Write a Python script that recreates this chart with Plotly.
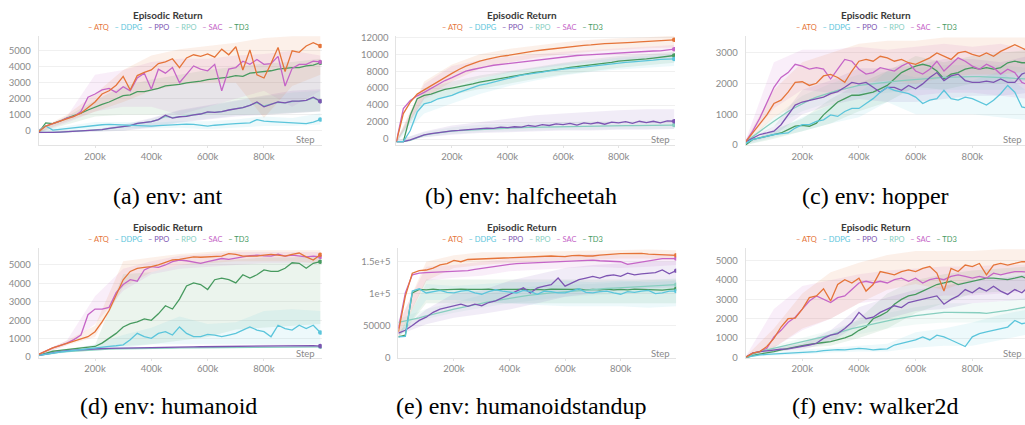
import plotly.graph_objects as go

# ---------------------------------------------------------------- data
STEPS_K = [0, 25, 50, 75, 100, 125, 150, 175, 200, 225, 250, 275, 300, 325, 350, 375, 400,
           425, 450, 475, 500, 525, 550, 575, 600, 625, 650, 675, 700, 725, 750, 775, 800,
           825, 850, 875, 900, 925, 950, 975, 1000]
BAND_STEPS_K = [0, 100, 200, 300, 400, 500, 600, 700, 800, 900, 1000]

ALGOS = ["ATQ", "DDPG", "PPO", "RPO", "SAC", "TD3"]
ENV_NAMES = ["ant", "halfcheetah", "hopper", "humanoid", "humanoidstandup", "walker2d"]
CAPTIONS = ["(a) env: ant", "(b) env: halfcheetah", "(c) env: hopper",
            "(d) env: humanoid", "(e) env: humanoidstandup", "(f) env: walker2d"]
CHART_TITLE = "Episodic Return"
X_LABEL = "Step"
X_TICK_VALS_K = [200, 400, 600, 800]
X_TICK_TEXT = ["200k", "400k", "600k", "800k"]
Y_TICKS_ANT = [0, 1000, 2000, 3000, 4000, 5000]
Y_TICKS_HALFCHEETAH = [0, 2000, 4000, 6000, 8000, 10000, 12000]
Y_TICKS_HOPPER = [0, 1000, 2000, 3000]
Y_TICKS_HUMANOID = [0, 1000, 2000, 3000, 4000, 5000]
Y_TICKS_HUMANOIDSTANDUP = [0, 50000, 100000, 150000]
Y_TICK_TEXT_HUMANOIDSTANDUP = ["0", "50000", "1e+5", "1.5e+5"]
Y_TICKS_WALKER2D = [0, 1000, 2000, 3000, 4000, 5000]

# ---- ant
ANT_ATQ = [-50, 300, 450, 600, 750, 900, 1100, 1450, 1800, 2300, 2500, 2850, 3400, 2550, 3450, 3650, 3800,
           4200, 4300, 4500, 3950, 4550, 4750, 4650, 4800, 4600, 5100, 4750, 5250, 3800, 5050, 3500, 3300,
           4200, 5200, 3700, 5000, 4900, 5300, 5500, 5300]
ANT_DDPG = [0, 300, 50, 100, 150, 200, 250, 300, 350, 380, 400, 380, 350, 320, 300, 300, 300,
            320, 350, 380, 400, 420, 400, 350, 300, 350, 400, 420, 450, 480, 500, 700, 600,
            580, 550, 520, 500, 480, 450, 550, 700]
ANT_PPO = [-100, -120, -100, -80, -60, -40, -20, 0, 20, 80, 150, 200, 260, 330, 470, 520, 570,
           700, 980, 800, 880, 900, 1000, 1050, 1180, 1150, 1200, 1300, 1390, 1450, 1590, 1800, 1500,
           1650, 1800, 1750, 1850, 1850, 1900, 2100, 1850]
ANT_RPO = [-100, -110, -100, -80, -60, -40, -20, 0, 30, 80, 140, 200, 260, 330, 450, 520, 580,
           700, 900, 820, 880, 920, 1000, 1050, 1150, 1150, 1200, 1300, 1380, 1450, 1580, 1750, 1550,
           1650, 1780, 1750, 1830, 1850, 1900, 2050, 1850]
ANT_SAC = [0, 300, 450, 600, 800, 900, 1200, 2100, 2300, 2550, 2650, 2400, 2750, 2500, 3300, 3600, 2600,
           3850, 3600, 3950, 3000, 3500, 4050, 3850, 3750, 4150, 2500, 3850, 3950, 4350, 4150, 4450, 4150,
           4200, 4650, 2800, 3900, 4150, 4150, 4350, 4300]
ANT_TD3 = [-100, 500, 450, 600, 800, 950, 1100, 1300, 1500, 1650, 1800, 2000, 2200, 2250, 2450, 2450, 2550,
           2650, 2800, 2850, 2900, 3000, 3050, 3100, 3200, 3250, 3300, 3350, 3450, 3400, 3600, 3650, 3700,
           3750, 3850, 3900, 3950, 3950, 4050, 4100, 4250]
ANT_ATQ_LO = [-100, 600, 1200, 1800, 2500, 2900, 3000, 3000, 800, 2800, 3500]
ANT_ATQ_HI = [100, 1000, 2300, 3800, 4700, 5100, 5300, 5500, 5800, 5900, 5900]
ANT_DDPG_LO = [-50, 0, 150, 200, 150, 200, 100, 200, 300, 300, 400]
ANT_DDPG_HI = [50, 300, 550, 550, 500, 600, 600, 700, 900, 800, 1100]
ANT_PPO_LO = [-150, -120, -50, 0, 200, 500, 700, 900, 1000, 1100, 1200]
ANT_PPO_HI = [-50, 0, 100, 400, 800, 1300, 1600, 1900, 2200, 2500, 2600]
ANT_RPO_LO = [-150, -120, -50, 0, 250, 550, 750, 950, 1050, 1150, 1250]
ANT_RPO_HI = [-50, 0, 100, 350, 750, 1250, 1550, 1850, 2150, 2400, 2500]
ANT_SAC_LO = [-100, 500, 1200, 1500, 1500, 1000, 1500, 2000, 2500, 1500, 2500]
ANT_SAC_HI = [100, 900, 3500, 3800, 4300, 4500, 4500, 4700, 4800, 5000, 4700]
ANT_TD3_LO = [-100, 400, 900, 1000, 1000, 1000, 1000, 1000, 1000, 1100, 1200]
ANT_TD3_HI = [100, 900, 1900, 2800, 3200, 3500, 3800, 4000, 4200, 4300, 4500]

# ---- halfcheetah
HALFCHEETAH_ATQ = [-300, 3000, 4350, 5300, 5800, 6300, 6700, 7250, 7750, 8200, 8600, 8900, 9200, 9400, 9600, 9750,
                   9850, 10000, 10150, 10250, 10400, 10500, 10600, 10700, 10800, 10900, 11000, 11050, 11100,
                   11200, 11250, 11280, 11300, 11350, 11400, 11450, 11500, 11550, 11600, 11650, 11700]
HALFCHEETAH_DDPG = [-300, -300, 1000, 3200, 4150, 4350, 4750, 4950, 5150, 5500, 5800, 6100, 6350, 6500, 6700,
                    6900, 7150, 7350, 7550, 7650, 7750, 7900, 8050, 8180, 8300, 8350, 8400, 8500, 8600, 8700,
                    8800, 8900, 9000, 9050, 9100, 9150, 9200, 9300, 9400, 9420, 9450]
HALFCHEETAH_PPO = [-300, -300, -100, 200, 500, 650, 770, 900, 970, 1020, 1080, 1150, 1200, 1300, 1250, 1400,
                   1350, 1450, 1400, 1600, 1500, 1700, 1600, 1800, 1700, 1850, 1650, 1900, 1800, 1950, 1750,
                   2000, 1900, 2050, 1850, 2100, 1950, 2100, 1900, 2150, 2100]
HALFCHEETAH_RPO = [-300, -300, -150, 150, 450, 620, 750, 850, 950, 1000, 1050, 1100, 1150, 1200, 1230, 1260,
                   1300, 1330, 1360, 1380, 1400, 1420, 1440, 1460, 1480, 1500, 1510, 1520, 1530, 1540, 1550,
                   1560, 1570, 1580, 1590, 1600, 1610, 1620, 1630, 1640, 1650]
HALFCHEETAH_SAC = [-300, 3600, 4550, 5100, 5500, 6000, 6500, 6900, 7250, 7650, 8000, 8200, 8400, 8550, 8700,
                   8800, 8900, 9000, 9100, 9200, 9300, 9380, 9450, 9580, 9700, 9780, 9850, 9900, 9950, 10030,
                   10100, 10120, 10150, 10200, 10250, 10300, 10350, 10380, 10400, 10500, 10600]
HALFCHEETAH_TD3 = [-300, -300, 2800, 4750, 5150, 5300, 5600, 5850, 6000, 6150, 6300, 6500, 6700, 6850, 7000,
                   7100, 7250, 7400, 7550, 7700, 7850, 7950, 8050, 8200, 8300, 8450, 8550, 8620, 8700, 8800,
                   8900, 9050, 9200, 9250, 9300, 9380, 9450, 9550, 9650, 9750, 9850]
HALFCHEETAH_ATQ_LO = [-400, 4800, 6800, 8300, 9000, 9600, 10000, 10300, 10500, 10700, 10800]
HALFCHEETAH_ATQ_HI = [-200, 6800, 8800, 10000, 10600, 11000, 11400, 11700, 11900, 12000, 12200]
HALFCHEETAH_DDPG_LO = [-400, 3000, 4200, 5300, 6200, 6900, 7500, 7900, 8200, 8400, 8600]
HALFCHEETAH_DDPG_HI = [-200, 5000, 6000, 7100, 7900, 8400, 8900, 9200, 9600, 9800, 10000]
HALFCHEETAH_PPO_LO = [-400, 200, 500, 700, 800, 900, 1000, 1000, 1100, 1100, 1200]
HALFCHEETAH_PPO_HI = [-200, 900, 1600, 2000, 2400, 2800, 3000, 3200, 3400, 3500, 3500]
HALFCHEETAH_RPO_LO = [-400, 200, 600, 800, 900, 1000, 1100, 1100, 1200, 1200, 1200]
HALFCHEETAH_RPO_HI = [-200, 800, 1400, 1700, 1800, 1900, 2000, 2100, 2100, 2200, 2200]
HALFCHEETAH_SAC_LO = [-400, 4700, 6200, 7200, 7800, 8300, 8700, 9000, 9200, 9400, 9600]
HALFCHEETAH_SAC_HI = [-200, 6500, 8600, 9300, 9700, 10000, 10300, 10500, 10700, 10900, 11100]
HALFCHEETAH_TD3_LO = [-400, 4200, 5200, 5900, 6500, 7100, 7600, 8000, 8400, 8700, 9000]
HALFCHEETAH_TD3_HI = [-200, 5900, 6800, 7500, 8000, 8500, 9000, 9400, 9800, 10000, 10300]

# ---- hopper
HOPPER_ATQ = [100, 390, 660, 980, 1350, 1460, 1720, 2040, 2060, 1940, 2010, 2250, 2300, 2200, 2040, 2410, 2730,
              2790, 2730, 2890, 2840, 2730, 2790, 2680, 2630, 2730, 2840, 3000, 2890, 2790, 3000, 3050, 2950,
              2890, 3000, 2890, 3050, 3160, 3270, 3160, 3050]
HOPPER_DDPG = [50, 180, 230, 290, 340, 370, 390, 550, 660, 660, 770, 820, 980, 930, 1090, 1190, 1190,
               1350, 1510, 1720, 1880, 1780, 1720, 1670, 1560, 1350, 1460, 1510, 1780, 1510, 1460, 1560, 1510,
               1400, 1300, 1460, 1670, 1940, 1720, 1240, 1190]
HOPPER_PPO = [100, 230, 340, 390, 450, 660, 980, 1300, 1400, 1460, 1510, 1560, 1670, 1740, 1880, 2040, 1990,
              2040, 1880, 1720, 1880, 1880, 1780, 1940, 1830, 1990, 2200, 2360, 2100, 2250, 2310, 2100, 2040,
              2040, 2080, 2040, 2150, 2040, 2040, 2310, 2400]
HOPPER_RPO = [100, 280, 450, 610, 770, 930, 1090, 1220, 1350, 1460, 1560, 1640, 1720, 1780, 1830, 1890, 1940,
              1970, 1990, 2020, 2040, 2070, 2100, 2120, 2150, 2160, 2170, 2190, 2200, 2210, 2230, 2230, 2230,
              2225, 2220, 2210, 2200, 2190, 2170, 2160, 2150]
HOPPER_SAC = [100, 450, 870, 1400, 1880, 2200, 2360, 2630, 2570, 2470, 2520, 2470, 2150, 2470, 2790, 2730, 2470,
              2310, 2360, 2520, 2470, 2410, 2570, 2680, 2410, 2310, 2470, 2730, 2410, 2630, 2840, 2730, 2570,
              2470, 2630, 2520, 2310, 2470, 2360, 2040, 1950]
HOPPER_TD3 = [0, 180, 230, 290, 340, 390, 500, 610, 640, 610, 710, 980, 1190, 1400, 1510, 1620, 1620,
              1670, 1720, 1830, 1940, 2150, 2360, 2470, 2570, 2630, 2570, 2410, 2150, 2310, 2360, 2470, 2520,
              2470, 2520, 2470, 2520, 2680, 2730, 2680, 2680]
HOPPER_ATQ_LO = [50, 900, 1400, 1600, 2000, 2100, 2000, 2200, 2300, 2300, 2400]
HOPPER_ATQ_HI = [150, 1800, 2700, 3000, 3300, 3400, 3400, 3500, 3500, 3500, 3500]
HOPPER_DDPG_LO = [0, 250, 450, 700, 900, 1400, 1000, 1000, 1000, 900, 800]
HOPPER_DDPG_HI = [100, 450, 900, 1300, 1700, 2400, 2200, 2300, 2100, 2400, 1700]
HOPPER_PPO_LO = [50, 300, 1000, 1300, 1500, 1400, 1400, 1500, 1600, 1600, 1700]
HOPPER_PPO_HI = [150, 600, 1800, 2100, 2500, 2500, 2600, 2800, 2800, 2700, 2900]
HOPPER_RPO_LO = [50, 600, 1100, 1400, 1600, 1700, 1800, 1800, 1800, 1800, 1800]
HOPPER_RPO_HI = [150, 900, 1600, 2000, 2300, 2400, 2500, 2600, 2600, 2600, 2500]
HOPPER_SAC_LO = [50, 1200, 1800, 1700, 1700, 1800, 1600, 1700, 1700, 1600, 1500]
HOPPER_SAC_HI = [150, 2700, 3100, 3100, 3200, 3100, 3200, 3300, 3200, 3300, 3100]
HOPPER_TD3_LO = [0, 200, 450, 700, 1100, 1400, 1900, 1800, 2000, 2000, 2100]
HOPPER_TD3_HI = [50, 500, 850, 1500, 2000, 2400, 2900, 2700, 2900, 3000, 3100]

# ---- humanoid
HUMANOID_ATQ = [150, 330, 500, 630, 760, 890, 1020, 1110, 1380, 1910, 2530, 3320, 4200, 4650, 4820, 4870, 4910,
                5000, 5120, 5270, 5300, 5350, 5440, 5420, 5440, 5440, 5480, 5620, 5580, 5480, 5480, 5480, 5530,
                5580, 5530, 5480, 5580, 5650, 5440, 5270, 5560]
HUMANOID_DDPG = [100, 170, 230, 280, 320, 370, 410, 450, 500, 540, 580, 620, 670, 940, 1290, 1110, 1020,
                 1290, 1380, 1200, 1640, 1290, 1110, 1110, 1240, 1200, 1110, 1200, 1290, 1470, 1640, 1470, 1380,
                 1110, 1730, 1550, 1470, 1730, 1550, 1730, 1340]
HUMANOID_PPO = [100, 180, 250, 300, 350, 380, 410, 440, 460, 470, 480, 490, 500, 505, 510, 515, 530,
                535, 540, 545, 550, 555, 560, 565, 570, 572, 575, 578, 580, 590, 600, 605, 620,
                625, 630, 635, 640, 645, 650, 630, 600]
HUMANOID_RPO = [100, 170, 230, 270, 300, 330, 360, 390, 420, 430, 440, 450, 460, 465, 470, 475, 480,
                485, 490, 495, 500, 505, 510, 512, 515, 517, 520, 522, 525, 530, 535, 537, 540,
                542, 545, 547, 550, 552, 555, 557, 560]
HUMANOID_SAC = [150, 330, 500, 630, 760, 950, 1200, 2300, 2610, 2610, 2700, 3500, 3940, 4200, 4120, 4730, 4910,
                4870, 5000, 5180, 5270, 5230, 5180, 5090, 5180, 5270, 5350, 5300, 5350, 5440, 5500, 5530, 5500,
                5480, 5580, 5480, 5530, 5480, 5440, 5480, 5440]
HUMANOID_TD3 = [100, 210, 320, 370, 410, 450, 500, 540, 580, 760, 1020, 1290, 1640, 1820, 1910, 2080, 2000,
                2350, 2790, 2610, 3150, 3860, 4030, 3940, 3670, 4200, 4290, 4200, 4030, 4470, 4290, 4470, 4730,
                4650, 4650, 4820, 5120, 5090, 4820, 5090, 5180]
HUMANOID_ATQ_LO = [100, 650, 1100, 3800, 4600, 5000, 5100, 5200, 5200, 5200, 5100]
HUMANOID_ATQ_HI = [200, 900, 1700, 5200, 5400, 5600, 5700, 5800, 5800, 5800, 5800]
HUMANOID_DDPG_LO = [50, 250, 400, 500, 700, 700, 700, 700, 700, 700, 700]
HUMANOID_DDPG_HI = [150, 400, 700, 1200, 1600, 2200, 1800, 1900, 2500, 2600, 2500]
HUMANOID_PPO_LO = [50, 300, 420, 460, 490, 510, 530, 540, 570, 590, 560]
HUMANOID_PPO_HI = [150, 400, 500, 540, 570, 590, 610, 620, 670, 690, 650]
HUMANOID_RPO_LO = [50, 270, 380, 420, 450, 470, 490, 500, 510, 520, 530]
HUMANOID_RPO_HI = [150, 370, 460, 500, 510, 530, 540, 550, 570, 580, 590]
HUMANOID_SAC_LO = [100, 650, 1800, 3600, 4500, 4800, 4900, 5000, 5100, 5100, 5100]
HUMANOID_SAC_HI = [200, 900, 3300, 4800, 5200, 5500, 5600, 5700, 5700, 5700, 5700]
HUMANOID_TD3_LO = [50, 350, 500, 600, 700, 900, 1100, 1500, 1600, 1700, 1800]
HUMANOID_TD3_HI = [150, 450, 650, 4500, 4600, 5000, 5200, 5300, 5400, 5400, 5500]

# ---- humanoidstandup
HUMANOIDSTANDUP_ATQ = [40000, 96000, 132000, 136000, 137000, 140000, 145000, 147000, 152000, 150000, 153500,
                       154000, 153500, 155000, 155000, 155500, 156000, 156000, 156500, 157000, 157600, 158000,
                       159000, 158500, 158000, 159500, 160000, 159000, 159000, 160500, 161700, 162000, 162700,
                       163000, 163700, 163000, 162000, 161500, 160000, 160500, 160000]
HUMANOIDSTANDUP_DDPG = [32000, 33000, 104000, 107500, 101000, 103000, 105000, 102000, 101000, 104000, 105000,
                        101000, 99000, 103000, 106000, 104000, 102000, 101000, 105000, 103000, 99000, 104000,
                        103000, 101000, 101000, 104000, 107500, 102000, 101000, 103000, 104000, 101000, 99000,
                        103000, 102000, 104000, 105000, 100000, 101000, 104000, 104000]
HUMANOIDSTANDUP_PPO = [38000, 42500, 50000, 58000, 63000, 70600, 75700, 78300, 81000, 83400, 80000, 83400,
                       81000, 86000, 88500, 93700, 98800, 104000, 109000, 101000, 109000, 111600, 114000,
                       124400, 111600, 116700, 121800, 124400, 127000, 124400, 128000, 129500, 127000, 132000,
                       129500, 131000, 132000, 133000, 137000, 131000, 136000]
HUMANOIDSTANDUP_RPO = [55000, 57000, 59500, 62000, 65000, 68000, 70500, 73000, 75500, 78000, 80500, 83000,
                       85000, 87000, 89000, 91000, 93000, 94500, 96000, 97500, 99000, 100000, 101000, 102000,
                       103000, 104000, 105000, 105800, 106500, 107200, 108000, 108700, 109300, 110000, 110600,
                       111200, 111800, 112400, 113000, 113500, 114000]
HUMANOIDSTANDUP_SAC = [45000, 101000, 129500, 132000, 133000, 133500, 134000, 134500, 135000, 135500, 136000,
                       138000, 139700, 141500, 143000, 144500, 146000, 147000, 147400, 148000, 148400, 149000,
                       149400, 149700, 150000, 150500, 151000, 152000, 152500, 151500, 151000, 150500, 150000,
                       146000, 148000, 150000, 151500, 153000, 155000, 155000, 155000]
HUMANOIDSTANDUP_TD3 = [32000, 35000, 101000, 106500, 106000, 107000, 106000, 106500, 106000, 107000, 106500,
                       106000, 106500, 107000, 106000, 106500, 106000, 106500, 107000, 106000, 106500, 106000,
                       107000, 106500, 106000, 106500, 107000, 106000, 106500, 106000, 107000, 106000, 106500,
                       106000, 107000, 106500, 106000, 106500, 105500, 106500, 107500]
HUMANOIDSTANDUP_ATQ_LO = [30000, 120000, 140000, 145000, 148000, 150000, 152000, 153000, 155000, 155000, 153000]
HUMANOIDSTANDUP_ATQ_HI = [50000, 150000, 160000, 165000, 165000, 166000, 167000, 168000, 169000, 169000, 168000]
HUMANOIDSTANDUP_DDPG_LO = [30000, 90000, 90000, 88000, 85000, 82000, 80000, 80000, 80000, 78000, 80000]
HUMANOIDSTANDUP_DDPG_HI = [34000, 115000, 112000, 115000, 118000, 118000, 120000, 118000, 120000, 118000, 120000]
HUMANOIDSTANDUP_PPO_LO = [35000, 52000, 62000, 68000, 75000, 85000, 95000, 100000, 105000, 108000, 110000]
HUMANOIDSTANDUP_PPO_HI = [40000, 75000, 100000, 105000, 120000, 130000, 140000, 145000, 148000, 150000, 150000]
HUMANOIDSTANDUP_RPO_LO = [40000, 60000, 70000, 78000, 85000, 90000, 95000, 98000, 100000, 102000, 104000]
HUMANOIDSTANDUP_RPO_HI = [60000, 76000, 86000, 98000, 107000, 112000, 114000, 115000, 118000, 121000, 124000]
HUMANOIDSTANDUP_SAC_LO = [35000, 120000, 125000, 128000, 135000, 138000, 140000, 142000, 140000, 142000, 145000]
HUMANOIDSTANDUP_SAC_HI = [55000, 142000, 145000, 150000, 155000, 158000, 160000, 162000, 160000, 160000, 163000]
HUMANOIDSTANDUP_TD3_LO = [30000, 85000, 85000, 85000, 85000, 85000, 85000, 85000, 85000, 85000, 85000]
HUMANOIDSTANDUP_TD3_HI = [34000, 122000, 122000, 122000, 122000, 122000, 122000, 122000, 122000, 122000, 122000]

# ---- walker2d
WALKER2D_ATQ = [0, 220, 300, 560, 980, 1570, 2000, 2030, 2500, 3090, 3180, 3550, 2920, 3770, 4020, 3850, 4100,
                3430, 3770, 4440, 4360, 4270, 4440, 4530, 4440, 4610, 4700, 4360, 3430, 4610, 4440, 4780, 4700,
                4860, 4270, 4780, 4860, 4780, 4860, 4950, 4950]
WALKER2D_DDPG = [0, 80, 130, 150, 170, 200, 220, 250, 270, 290, 300, 350, 390, 400, 390, 430, 470,
                 440, 390, 420, 440, 640, 730, 810, 900, 1060, 900, 1150, 1060, 900, 730, 560, 1060,
                 1230, 1320, 1400, 1490, 1570, 1910, 1740, 1820]
WALKER2D_PPO = [0, 220, 300, 350, 390, 420, 440, 500, 560, 640, 730, 980, 1150, 1230, 1490, 1820, 2330,
                2000, 2080, 2330, 2500, 2670, 2580, 2840, 2920, 3000, 3090, 3180, 2750, 3000, 3180, 3510, 3340,
                3600, 3430, 3680, 3430, 3260, 3510, 3340, 3680]
WALKER2D_RPO = [0, 150, 300, 390, 470, 560, 640, 720, 810, 900, 980, 1060, 1150, 1270, 1400, 1490, 1570,
                1650, 1740, 1830, 1910, 1970, 2030, 2100, 2160, 2200, 2250, 2290, 2330, 2330, 2330, 2330, 2330,
                2310, 2280, 2320, 2360, 2430, 2500, 2570, 2630]
WALKER2D_SAC = [0, 220, 300, 470, 1060, 1400, 1820, 2080, 2500, 2920, 3180, 3000, 2840, 3090, 3180, 3510, 3850,
                3940, 3850, 3940, 3850, 4020, 4100, 3940, 4100, 3850, 4020, 4100, 4020, 4190, 4270, 4190, 4100,
                4190, 4100, 4360, 4270, 4360, 4440, 4440, 4400]
WALKER2D_TD3 = [-50, 100, 170, 220, 300, 390, 470, 540, 610, 670, 730, 770, 810, 900, 1010, 1150, 1400,
                1570, 2000, 2160, 2360, 2750, 3000, 3180, 3260, 3430, 3600, 3770, 3850, 3940, 3770, 3850, 3940,
                4020, 4100, 4100, 4060, 4020, 4100, 4190, 4020]
WALKER2D_ATQ_LO = [0, 500, 1500, 2000, 2800, 3500, 3800, 3500, 4000, 4300, 4400]
WALKER2D_ATQ_HI = [50, 1500, 3300, 4400, 4900, 5300, 5500, 5500, 5500, 5600, 5600]
WALKER2D_DDPG_LO = [0, 100, 150, 250, 300, 300, 500, 600, 600, 900, 1200]
WALKER2D_DDPG_HI = [50, 250, 400, 500, 600, 700, 1300, 1500, 1800, 2200, 2500]
WALKER2D_PPO_LO = [0, 300, 400, 800, 1700, 2000, 2400, 2500, 2800, 2900, 3000]
WALKER2D_PPO_HI = [50, 500, 700, 1400, 2600, 3100, 3500, 3700, 4000, 4100, 4300]
WALKER2D_RPO_LO = [0, 350, 600, 900, 1200, 1500, 1700, 1800, 1800, 1800, 2000]
WALKER2D_RPO_HI = [50, 600, 1000, 1400, 1900, 2300, 2600, 2800, 2800, 2900, 3100]
WALKER2D_SAC_LO = [0, 500, 1400, 2000, 2800, 3000, 3000, 3200, 3200, 3300, 3400]
WALKER2D_SAC_HI = [50, 2500, 3700, 4000, 4300, 4500, 4600, 4700, 4700, 4800, 4800]
WALKER2D_TD3_LO = [-50, 250, 500, 600, 1000, 1500, 2300, 2800, 3300, 3400, 3500]
WALKER2D_TD3_HI = [50, 400, 800, 1200, 2000, 3300, 4000, 4300, 4500, 4600, 4700]

LINES = {
    "ant": [ANT_ATQ, ANT_DDPG, ANT_PPO, ANT_RPO, ANT_SAC, ANT_TD3],
    "halfcheetah": [HALFCHEETAH_ATQ, HALFCHEETAH_DDPG, HALFCHEETAH_PPO, HALFCHEETAH_RPO, HALFCHEETAH_SAC, HALFCHEETAH_TD3],
    "hopper": [HOPPER_ATQ, HOPPER_DDPG, HOPPER_PPO, HOPPER_RPO, HOPPER_SAC, HOPPER_TD3],
    "humanoid": [HUMANOID_ATQ, HUMANOID_DDPG, HUMANOID_PPO, HUMANOID_RPO, HUMANOID_SAC, HUMANOID_TD3],
    "humanoidstandup": [HUMANOIDSTANDUP_ATQ, HUMANOIDSTANDUP_DDPG, HUMANOIDSTANDUP_PPO, HUMANOIDSTANDUP_RPO,
                        HUMANOIDSTANDUP_SAC, HUMANOIDSTANDUP_TD3],
    "walker2d": [WALKER2D_ATQ, WALKER2D_DDPG, WALKER2D_PPO, WALKER2D_RPO, WALKER2D_SAC, WALKER2D_TD3],
}
BANDS = {
    "ant": [(ANT_ATQ_LO, ANT_ATQ_HI), (ANT_DDPG_LO, ANT_DDPG_HI), (ANT_PPO_LO, ANT_PPO_HI),
            (ANT_RPO_LO, ANT_RPO_HI), (ANT_SAC_LO, ANT_SAC_HI), (ANT_TD3_LO, ANT_TD3_HI)],
    "halfcheetah": [(HALFCHEETAH_ATQ_LO, HALFCHEETAH_ATQ_HI), (HALFCHEETAH_DDPG_LO, HALFCHEETAH_DDPG_HI),
                    (HALFCHEETAH_PPO_LO, HALFCHEETAH_PPO_HI), (HALFCHEETAH_RPO_LO, HALFCHEETAH_RPO_HI),
                    (HALFCHEETAH_SAC_LO, HALFCHEETAH_SAC_HI), (HALFCHEETAH_TD3_LO, HALFCHEETAH_TD3_HI)],
    "hopper": [(HOPPER_ATQ_LO, HOPPER_ATQ_HI), (HOPPER_DDPG_LO, HOPPER_DDPG_HI), (HOPPER_PPO_LO, HOPPER_PPO_HI),
               (HOPPER_RPO_LO, HOPPER_RPO_HI), (HOPPER_SAC_LO, HOPPER_SAC_HI), (HOPPER_TD3_LO, HOPPER_TD3_HI)],
    "humanoid": [(HUMANOID_ATQ_LO, HUMANOID_ATQ_HI), (HUMANOID_DDPG_LO, HUMANOID_DDPG_HI),
                 (HUMANOID_PPO_LO, HUMANOID_PPO_HI), (HUMANOID_RPO_LO, HUMANOID_RPO_HI),
                 (HUMANOID_SAC_LO, HUMANOID_SAC_HI), (HUMANOID_TD3_LO, HUMANOID_TD3_HI)],
    "humanoidstandup": [(HUMANOIDSTANDUP_ATQ_LO, HUMANOIDSTANDUP_ATQ_HI), (HUMANOIDSTANDUP_DDPG_LO, HUMANOIDSTANDUP_DDPG_HI),
                        (HUMANOIDSTANDUP_PPO_LO, HUMANOIDSTANDUP_PPO_HI), (HUMANOIDSTANDUP_RPO_LO, HUMANOIDSTANDUP_RPO_HI),
                        (HUMANOIDSTANDUP_SAC_LO, HUMANOIDSTANDUP_SAC_HI), (HUMANOIDSTANDUP_TD3_LO, HUMANOIDSTANDUP_TD3_HI)],
    "walker2d": [(WALKER2D_ATQ_LO, WALKER2D_ATQ_HI), (WALKER2D_DDPG_LO, WALKER2D_DDPG_HI),
                 (WALKER2D_PPO_LO, WALKER2D_PPO_HI), (WALKER2D_RPO_LO, WALKER2D_RPO_HI),
                 (WALKER2D_SAC_LO, WALKER2D_SAC_HI), (WALKER2D_TD3_LO, WALKER2D_TD3_HI)],
}
Y_TICKS = {
    "ant": (Y_TICKS_ANT, None),
    "halfcheetah": (Y_TICKS_HALFCHEETAH, None),
    "hopper": (Y_TICKS_HOPPER, None),
    "humanoid": (Y_TICKS_HUMANOID, None),
    "humanoidstandup": (Y_TICKS_HUMANOIDSTANDUP, Y_TICK_TEXT_HUMANOIDSTANDUP),
    "walker2d": (Y_TICKS_WALKER2D, None),
}

# ---------------------------------------------------------------- style
W, H = 1025, 425
COLORS = ["#E57439", "#5BC5DB", "#7D54B2", "#87CEBF", "#C565C7", "#479A5F"]
UI_FONT = "Lato"
CAPTION_FONT = "Liberation Serif"

# pixel geometry of each panel: plot-area x (left,right), y (top,bottom), axis ranges
PANELS = [
    dict(xpx=(38.7, 321.7), ypx=(32.7, 144.3), xr=(0, 1005), yr=(-900, 5920), cx=168, cap=(168, 196.5), step=(317, 138)),
    dict(xpx=(396.4, 675.0), ypx=(32.7, 144.3), xr=(0, 1003), yr=(-730, 12150), cx=522, cap=(521, 196.5), step=(672, 138)),
    dict(xpx=(745.6, 1025.0), ypx=(32.7, 144.3), xr=(0, 986), yr=(-10, 3552), cx=876, cap=(875, 196.5), step=(1024, 138)),
    dict(xpx=(38.7, 321.7), ypx=(249.3, 361.5), xr=(0, 1005), yr=(-37, 5920), cx=168, cap=(168, 411), step=(317, 357)),
    dict(xpx=(398.4, 676.2), ypx=(249.3, 361.5), xr=(0, 1000), yr=(-770, 171500), cx=522, cap=(521.5, 411), step=(672, 357)),
    dict(xpx=(745.6, 1025.0), ypx=(249.3, 361.5), xr=(0, 986), yr=(-25, 5660), cx=876, cap=(875, 411), step=(1024, 357)),
]


def rgba(hex_color, a):
    h = hex_color.lstrip("#")
    return "rgba(%d,%d,%d,%.3f)" % (int(h[0:2], 16), int(h[2:4], 16), int(h[4:6], 16), a)


fig = go.Figure()
annotations = []
layout_axes = {}

for i, env in enumerate(ENV_NAMES):
    p = PANELS[i]
    n = "" if i == 0 else str(i + 1)
    xref, yref = "x" + n, "y" + n

    # bands
    for k in reversed(range(len(ALGOS))):
        lo, hi = BANDS[env][k]
        fig.add_trace(go.Scatter(
            x=BAND_STEPS_K + BAND_STEPS_K[::-1], y=hi + lo[::-1],
            fill="toself", fillcolor=rgba(COLORS[k], 0.11), line=dict(width=0),
            mode="lines", hoverinfo="skip", showlegend=False, xaxis=xref, yaxis=yref))
    # lines
    for k in reversed(range(len(ALGOS))):
        ys = LINES[env][k]
        fig.add_trace(go.Scatter(
            x=STEPS_K, y=ys, mode="lines", line=dict(color=COLORS[k], width=1.3),
            name=ALGOS[k], showlegend=False, xaxis=xref, yaxis=yref))
        fig.add_trace(go.Scatter(
            x=STEPS_K[-1:], y=ys[-1:], mode="markers", marker=dict(color=COLORS[k], size=4.5),
            showlegend=False, hoverinfo="skip", xaxis=xref, yaxis=yref))

    yt, ytt = Y_TICKS[env]
    layout_axes["xaxis" + n] = dict(
        domain=[p["xpx"][0] / W, p["xpx"][1] / W], range=list(p["xr"]), anchor=yref,
        tickvals=X_TICK_VALS_K, ticktext=X_TICK_TEXT, showgrid=False, zeroline=False,
        showline=True, linecolor="#e3e3e3", linewidth=1, ticks="outside", ticklen=2,
        tickcolor="#e3e3e3", tickfont=dict(family=UI_FONT, size=9.5, color="#8a8a8a"))
    ydict = dict(
        domain=[1 - p["ypx"][1] / H, 1 - p["ypx"][0] / H], range=list(p["yr"]), anchor=xref,
        tickvals=yt, tickformat="d", showgrid=True, gridcolor="#f0f0f0", gridwidth=1, zeroline=False,
        showline=True, linecolor="#e3e3e3", linewidth=1, ticks="outside", ticklen=5,
        tickcolor="rgba(0,0,0,0)", tickfont=dict(family=UI_FONT, size=9.5, color="#8a8a8a"))
    if ytt is not None:
        ydict["ticktext"] = ytt
    layout_axes["yaxis" + n] = ydict

    title_y = 11 if i < 3 else 228.3
    legend_y = 23.7 if i < 3 else 240.3
    annotations.append(dict(
        text="<b>" + CHART_TITLE + "</b>", x=p["cx"] / W, y=1 - title_y / H, xref="paper", yref="paper",
        xanchor="center", yanchor="middle", showarrow=False,
        font=dict(family=UI_FONT, size=10, color="#3a3a3a")))
    parts = ["<span style='color:%s'>\u2013\u00a0%s</span>" % (COLORS[k], ALGOS[k]) for k in range(len(ALGOS))]
    annotations.append(dict(
        text="\u00a0\u00a0\u00a0".join(parts), x=p["cx"] / W, y=1 - legend_y / H, xref="paper", yref="paper",
        xanchor="center", yanchor="middle", showarrow=False,
        font=dict(family=UI_FONT, size=7.5, color="#888")))
    sx, sy = p["step"]
    annotations.append(dict(
        text=X_LABEL, x=sx / W, y=1 - sy / H, xref="paper", yref="paper",
        xanchor="right", yanchor="middle", showarrow=False,
        font=dict(family=UI_FONT, size=9.5, color="#8a8a8a")))
    cx, cy = p["cap"]
    annotations.append(dict(
        text=CAPTIONS[i], x=cx / W, y=1 - cy / H, xref="paper", yref="paper",
        xanchor="center", yanchor="middle", showarrow=False,
        font=dict(family=CAPTION_FONT, size=24, color="#000")))

fig.update_layout(
    width=W, height=H, margin=dict(l=0, r=0, t=0, b=0),
    paper_bgcolor="white", plot_bgcolor="white", showlegend=False,
    annotations=annotations, **layout_axes)

fig.write_html("out.html")
